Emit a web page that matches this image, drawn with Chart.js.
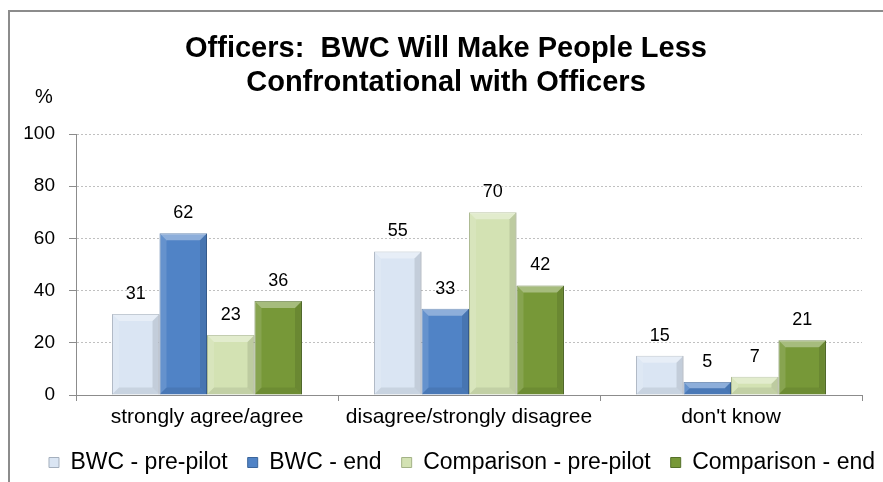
<!DOCTYPE html>
<html>
<head>
<meta charset="utf-8">
<script src="https://cdn.jsdelivr.net/npm/chart.js@4.4.1/dist/chart.umd.min.js"></script>
<style>
  html, body { margin: 0; padding: 0; background: #fff; overflow: hidden; }
  #frame {
    position: absolute; left: 8px; top: 10px;
    width: 900px; height: 500px;
    border: 2px solid #8c8c8c; box-sizing: border-box;
  }
  #chart { position: absolute; left: 0; top: 0; display: block; }
</style>
</head>
<body>
<div id="frame"></div>
<canvas id="chart" width="883" height="484"></canvas>
<script>
// --- Data ---
const categories = ["strongly agree/agree", "disagree/strongly disagree", "don't know"];
const seriesNames = ["BWC - pre-pilot", "BWC - end", "Comparison - pre-pilot", "Comparison - end"];
const bwcPre = [31, 55, 15];
const bwcEnd = [62, 33, 5];
const compPre = [23, 70, 7];
const compEnd = [36, 42, 21];
const yTicks = [0, 20, 40, 60, 80, 100];

const titleLines = ["Officers:  BWC Will Make People Less", "Confrontational with Officers"];
const FONT = "'Liberation Sans', Arial, sans-serif";

const fills = ["#dae5f3", "#5083c6", "#d3e2b3", "#779838"];
const edges = ["#a4afbd", "#3b659b", "#a3b286", "#55702a"];

// bevel look, title, % caption and value labels
const decorations = {
  id: "decorations",
  afterLayout(chart) {
    // push the legend to the right like the original
    chart.legend.left += 20;
    chart.legend.right += 20;
  },
  afterDatasetsDraw(chart) {
    const ctx = chart.ctx;
    ctx.save();
    chart.data.datasets.forEach((ds, i) => {
      chart.getDatasetMeta(i).data.forEach((bar) => {
        const l = bar.x - bar.width / 2, r = bar.x + bar.width / 2;
        const t = bar.y, b = bar.base;
        const d = Math.min(7, (b - t) / 2);
        const poly = (pts, color) => {
          ctx.beginPath();
          ctx.moveTo(pts[0][0], pts[0][1]);
          pts.slice(1).forEach((p) => ctx.lineTo(p[0], p[1]));
          ctx.closePath();
          ctx.fillStyle = color;
          ctx.fill();
        };
        poly([[l, t], [r, t], [r - d, t + d], [l + d, t + d]], "rgba(255,255,255,0.35)");
        poly([[l, t], [l + d, t + d], [l + d, b - d], [l, b]], "rgba(255,255,255,0.12)");
        poly([[r, t], [r - d, t + d], [r - d, b - d], [r, b]], "rgba(0,0,0,0.10)");
        poly([[l, b], [l + d, b - d], [r - d, b - d], [r, b]], "rgba(0,0,0,0.08)");
      });
    });

    ctx.font = "18px " + FONT;
    ctx.fillStyle = "#000";
    ctx.textAlign = "center";
    ctx.textBaseline = "alphabetic";
    chart.data.datasets.forEach((ds, i) => {
      chart.getDatasetMeta(i).data.forEach((bar, j) => {
        ctx.fillText(ds.data[j], bar.x, bar.y - 15);
      });
    });

    ctx.font = "20px " + FONT;
    ctx.textBaseline = "middle";
    ctx.fillText("%", chart.chartArea.left - 32, chart.chartArea.top - 37);

    ctx.font = "bold 29px " + FONT;
    ctx.fillText(titleLines[0], 446, 49);
    ctx.fillText(titleLines[1], 446, 83);
    ctx.restore();
  },
};

const datasets = [bwcPre, bwcEnd, compPre, compEnd].map((data, i) => ({
  label: seriesNames[i],
  data: data,
  backgroundColor: fills[i],
  borderColor: edges[i],
  borderWidth: 1,
  categoryPercentage: 0.725,
  barPercentage: 1.0,
}));

new Chart(document.getElementById("chart"), {
  type: "bar",
  data: { labels: categories, datasets: datasets },
  options: {
    responsive: false,
    animation: false,
    layout: { padding: { left: 8, right: 8, top: 134, bottom: 0 } },
    plugins: {
      title: { display: false },
      legend: {
        position: "bottom",
        align: "end",
        labels: {
          color: "#000",
          font: { family: FONT, size: 23 },
          boxWidth: 10,
          boxHeight: 10,
          padding: 20,
        },
      },
      tooltip: { enabled: false },
    },
    scales: {
      x: {
        grid: { display: true, drawOnChartArea: false, offset: true, color: "#8c8c8c", tickLength: 6 },
        border: { color: "#8c8c8c" },
        ticks: { color: "#000", font: { family: FONT, size: 21 }, padding: 4, maxRotation: 0 },
        afterFit: (axis) => { axis.height = 36; },
      },
      y: {
        min: 0,
        max: 100,
        afterBuildTicks: (axis) => { axis.ticks = yTicks.map((v) => ({ value: v })); },
        afterFit: (axis) => { axis.width = 68; },
        grid: { color: "#c0c0c0", tickLength: 7, tickColor: "#8c8c8c" },
        border: { color: "#8c8c8c", dash: [2, 2] },
        ticks: { color: "#000", font: { family: FONT, size: 19 }, padding: 14 },
      },
      // empty axis that only reserves the space right of the plot
      yRight: {
        position: "right",
        display: true,
        grid: { display: false },
        border: { display: false },
        ticks: { display: false },
        afterFit: (axis) => { axis.width = 13; },
      },
    },
  },
  plugins: [decorations],
});
</script>
</body>
</html>
